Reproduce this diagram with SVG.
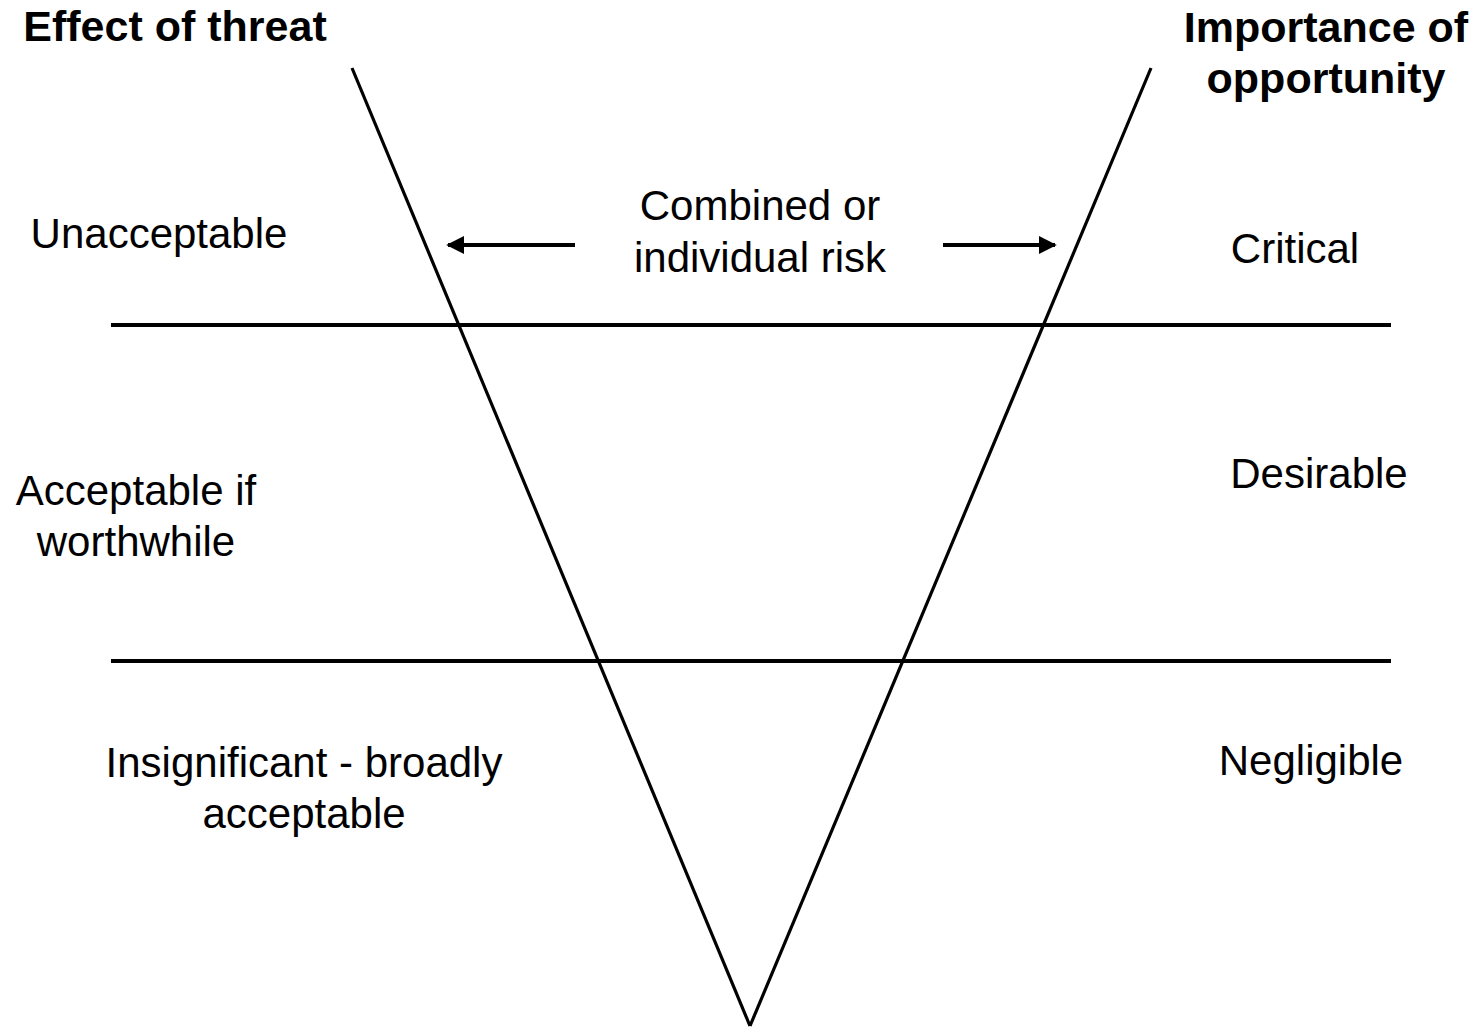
<svg xmlns="http://www.w3.org/2000/svg" width="1481" height="1029" viewBox="0 0 1481 1029">
<defs>
<style>
text{font-family:"Liberation Sans",Arial,sans-serif;font-size:42px;fill:#000;text-anchor:middle}
.b{font-weight:bold;font-size:43px}
.ln{stroke:#000;fill:none}
</style>
<marker id="ah" viewBox="0 0 10 10" refX="9" refY="5" markerWidth="4.5" markerHeight="4.5" orient="auto" markerUnits="strokeWidth">
<path d="M0,0 L10,5 L0,10 z" fill="#000"/>
</marker>
</defs>
<rect width="1481" height="1029" fill="#fff"/>
<g id="connectors">
<line class="ln" x1="352" y1="68" x2="750" y2="1026" stroke-width="3.2"/>
<line class="ln" x1="1151" y1="68" x2="750" y2="1026" stroke-width="3.2"/>
<line class="ln" x1="111" y1="325" x2="1391" y2="325" stroke-width="4"/>
<line class="ln" x1="111" y1="661" x2="1391" y2="661" stroke-width="4"/>
<line class="ln" x1="575" y1="245" x2="448" y2="245" stroke-width="4" marker-end="url(#ah)"/>
<line class="ln" x1="943" y1="245" x2="1055" y2="245" stroke-width="4" marker-end="url(#ah)"/>
</g>
<g id="effect-of-threat"><text class="b" x="175" y="41">Effect of threat</text></g>
<g id="importance-of-opportunity"><text class="b" x="1326" y="42">Importance of</text><text class="b" x="1326" y="93">opportunity</text></g>
<g id="combined-risk"><text x="760" y="220">Combined or</text><text x="760" y="272">individual risk</text></g>
<g id="unacceptable"><text x="159" y="248">Unacceptable</text></g>
<g id="critical"><text x="1295" y="263">Critical</text></g>
<g id="acceptable-if-worthwhile"><text x="136" y="505">Acceptable if</text><text x="136" y="556">worthwhile</text></g>
<g id="desirable"><text x="1319" y="488">Desirable</text></g>
<g id="insignificant"><text x="304" y="777">Insignificant - broadly</text><text x="304" y="828">acceptable</text></g>
<g id="negligible"><text x="1311" y="775">Negligible</text></g>
</svg>
